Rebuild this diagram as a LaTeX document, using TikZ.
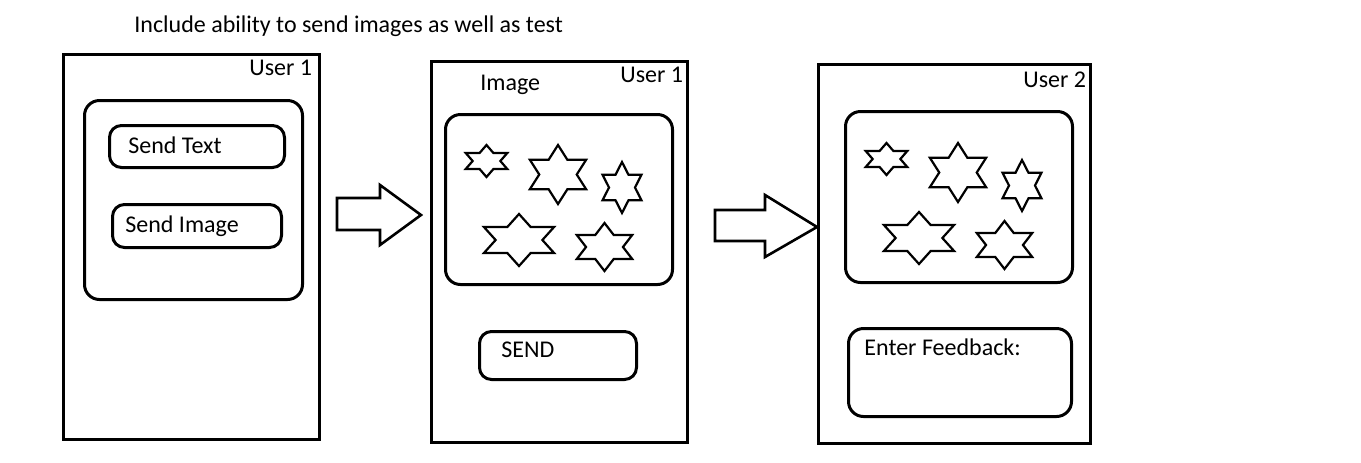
\documentclass[tikz,border=0pt]{standalone}
\usepackage{fontspec}
\setmainfont{Carlito}
\usepackage{tikz}

\tikzset{
  screen/.style={draw, line width=1.5pt, rectangle, inner sep=0pt},
  panel/.style={draw, line width=1.5pt, rounded corners=7.5pt, inner sep=0pt},
  btn/.style={draw, line width=1.5pt, rounded corners=6pt, inner sep=0pt},
  lbl/.style={inner sep=0pt, anchor=base west, font=\fontsize{12pt}{14pt}\selectfont},
  bigarrow/.style={draw, line width=1.3pt, line join=miter},
  starline/.style={draw, line width=1.1pt, line join=miter}
}

\begin{document}
\begin{tikzpicture}[x=0.5pt, y=-0.5pt]
\useasboundingbox (0,0) rectangle (1361,462);

% screens
\node[screen, minimum width=128pt, minimum height=192.5pt] (scr_a) at (191.5,247) {};
\node[screen, minimum width=128pt, minimum height=190.5pt] (scr_b) at (559.5,252) {};
\node[screen, minimum width=136pt, minimum height=189.5pt] (scr_c) at (954.5,254) {};

% panels
\node[panel, minimum width=109pt, minimum height=99.5pt] (menu) at (193.5,200) {};
\node[panel, minimum width=113.5pt, minimum height=85pt] (pics_b) at (559,199.5) {};
\node[panel, minimum width=113.5pt, minimum height=85.5pt] (pics_c) at (959,197) {};

% buttons
\node[btn, minimum width=87.5pt, minimum height=21pt] (send_txt) at (197,146.5) {};
\node[btn, minimum width=84.5pt, minimum height=21.5pt] (send_img) at (197,226) {};
\node[btn, minimum width=78.5pt, minimum height=24pt] (send) at (558,355.5) {};
\node[panel, minimum width=111.5pt, minimum height=44pt] (feedback) at (960,372.5) {};

% texts
\node[lbl] (title) at (134,32) {Include ability to send images as well as test};
\node[lbl] (user_a) at (249,75) {User 1};
\node[lbl] (txt_send_txt) at (128,153) {Send Text};
\node[lbl] (txt_send_img) at (125,232) {Send Image};
\node[lbl] (img) at (480,90) {Image};
\node[lbl] (user_b) at (620,82) {User 1};
\node[lbl] (txt_send) at (501,357) {SEND};
\node[lbl] (user_c) at (1023,87) {User 2};
\node[lbl] (txt_feedback) at (864,355) {Enter Feedback:};

% stars
\foreach \dx/\dy in {0/0, 400/-2}
  \foreach \cx/\cy/\rx/\ry in {486.5/161/24/16, 558/174.5/32.5/29.5, 622/187.5/22.5/25.5,
                                519/240/40.5/26, 604.5/247/32/24}
    \draw[starline, shift={(\cx+\dx,\cy+\dy)}, xscale=\rx, yscale=\ry]
      (90:1) \foreach \k in {1,...,11} { -- ({90+30*\k}:{1-0.423*mod(\k,2)}) } -- cycle;

% arrows
\draw[bigarrow] (337,198) -- (380,198) -- (380,185) -- (421,215) -- (380,245) -- (380,230) -- (337,230) -- cycle;
\draw[bigarrow] (715,210) -- (765,210) -- (765,195) -- (817,227) -- (765,257) -- (765,241) -- (715,241) -- cycle;
\end{tikzpicture}
\end{document}
